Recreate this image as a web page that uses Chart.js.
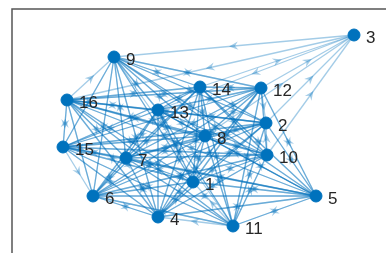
<!DOCTYPE html>
<html>
<head>
<meta charset="utf-8">
<script src="https://cdn.jsdelivr.net/npm/chart.js@4"></script>
<style>
  body { margin: 0; background: #fff; }
  #wrap { width: 386px; height: 253px; }
</style>
</head>
<body>
<div id="wrap"><canvas id="graph" width="386" height="253"></canvas></div>
<script>
// node layout (graph coordinates)
const nodeNames = ['1','2','3','4','5','6','7','8','9','10','11','12','13','14','15','16'];
const nodeX = [-0.14, 1.32, 3.08, -0.84, 2.32, -2.14, -1.48, 0.10, -1.72, 1.34, 0.66, 1.22, -0.84, 0.00, -2.74, -2.66];
const nodeY = [-1.04, 0.14, 1.90, -1.74, -1.32, -1.32, -0.56, -0.12, 1.46, -0.50, -1.92, 0.84, 0.40, 0.86, -0.34, 0.60];

// directed edges, source -> list of targets (1-based like the labels)
const edgeSources = [1, 2, 3, 4, 5, 6, 7, 8, 9, 10, 11, 12, 13, 14, 15, 16];
const edgeTargets = [
  [2, 4, 5, 6, 7, 8, 9, 10, 12, 13, 14, 15, 16],
  [1, 3, 4, 5, 6, 7, 8, 9, 11, 13, 14, 15, 16],
  [9, 13, 16],
  [1, 2, 5, 6, 7, 8, 9, 10, 12, 13, 14, 15, 16],
  [1, 2, 4, 6, 7, 8, 9, 11, 12, 13, 14, 15, 16],
  [1, 2, 4, 5, 7, 8, 9, 10, 11, 12, 13, 14, 16],
  [1, 2, 4, 5, 6, 8, 9, 10, 11, 12, 13, 14, 15, 16],
  [1, 2, 3, 4, 5, 6, 7, 9, 10, 11, 12, 13, 14, 15, 16],
  [1, 2, 4, 5, 6, 7, 8, 10, 11, 12, 13, 14, 15],
  [1, 2, 3, 4, 6, 7, 8, 9, 11, 12, 13, 14, 15, 16],
  [1, 2, 4, 5, 6, 7, 8, 10, 12, 13, 14, 15, 16],
  [1, 2, 3, 4, 5, 6, 7, 8, 9, 10, 11, 13, 14, 15, 16],
  [1, 2, 4, 5, 6, 7, 8, 9, 10, 11, 12, 14, 15, 16],
  [1, 2, 3, 4, 5, 6, 7, 8, 9, 10, 11, 12, 13, 15, 16],
  [1, 2, 4, 5, 6, 7, 8, 9, 10, 11, 12, 13, 14, 16],
  [1, 2, 4, 5, 6, 7, 8, 9, 10, 11, 12, 13, 14, 15]
];

const nodeColor = '#0072BD';
const edgeColor = 'rgba(0, 114, 189, 0.36)';

const edgePlugin = {
  id: 'edges',
  beforeDatasetsDraw(chart) {
    const { ctx } = chart;
    const xs = chart.scales.x, ys = chart.scales.y;
    ctx.save();
    ctx.strokeStyle = edgeColor;
    ctx.fillStyle = edgeColor;
    ctx.lineWidth = 1.3;
    edgeSources.forEach((s, i) => {
      edgeTargets[i].forEach(t => {
        const x1 = xs.getPixelForValue(nodeX[s - 1]), y1 = ys.getPixelForValue(nodeY[s - 1]);
        const x2 = xs.getPixelForValue(nodeX[t - 1]), y2 = ys.getPixelForValue(nodeY[t - 1]);
        ctx.beginPath();
        ctx.moveTo(x1, y1);
        ctx.lineTo(x2, y2);
        ctx.stroke();
        // arrow head at the middle of the edge
        const a = Math.atan2(y2 - y1, x2 - x1);
        const mx = (x1 + x2) / 2 + Math.cos(a) * 5, my = (y1 + y2) / 2 + Math.sin(a) * 5;
        ctx.beginPath();
        ctx.moveTo(mx, my);
        ctx.lineTo(mx - Math.cos(a - 0.42) * 10, my - Math.sin(a - 0.42) * 10);
        ctx.lineTo(mx - Math.cos(a) * 6, my - Math.sin(a) * 6);
        ctx.lineTo(mx - Math.cos(a + 0.42) * 10, my - Math.sin(a + 0.42) * 10);
        ctx.closePath();
        ctx.fill();
      });
    });
    ctx.restore();
  },
  afterDatasetsDraw(chart) {
    const { ctx, chartArea } = chart;
    const xs = chart.scales.x, ys = chart.scales.y;
    ctx.save();
    ctx.fillStyle = '#262626';
    ctx.font = '17px "Liberation Sans", Arial, sans-serif';
    ctx.textBaseline = 'middle';
    nodeNames.forEach((n, i) => {
      ctx.fillText(n, xs.getPixelForValue(nodeX[i]) + 12, ys.getPixelForValue(nodeY[i]) + 3);
    });
    // axes box (only left and top edges fall inside the window)
    ctx.strokeStyle = '#555';
    ctx.lineWidth = 1.5;
    ctx.beginPath();
    ctx.moveTo(chartArea.left, chartArea.bottom + 5);
    ctx.lineTo(chartArea.left, chartArea.top);
    ctx.lineTo(chartArea.right + 5, chartArea.top);
    ctx.stroke();
    ctx.restore();
  }
};

new Chart(document.getElementById('graph'), {
  type: 'scatter',
  data: {
    datasets: [{
      data: nodeX.map((x, i) => ({ x: x, y: nodeY[i] })),
      backgroundColor: nodeColor,
      borderColor: nodeColor,
      pointRadius: 6,
      pointHoverRadius: 6
    }]
  },
  options: {
    responsive: false,
    animation: false,
    clip: false,
    layout: { autoPadding: false, padding: { left: 12, top: 9, right: 0, bottom: 0 } },
    scales: {
      x: { display: false, min: -3.76, max: 3.72 },
      y: { display: false, min: -2.46, max: 2.42 }
    },
    plugins: { legend: { display: false }, tooltip: { enabled: false } }
  },
  plugins: [edgePlugin]
});
</script>
</body>
</html>
